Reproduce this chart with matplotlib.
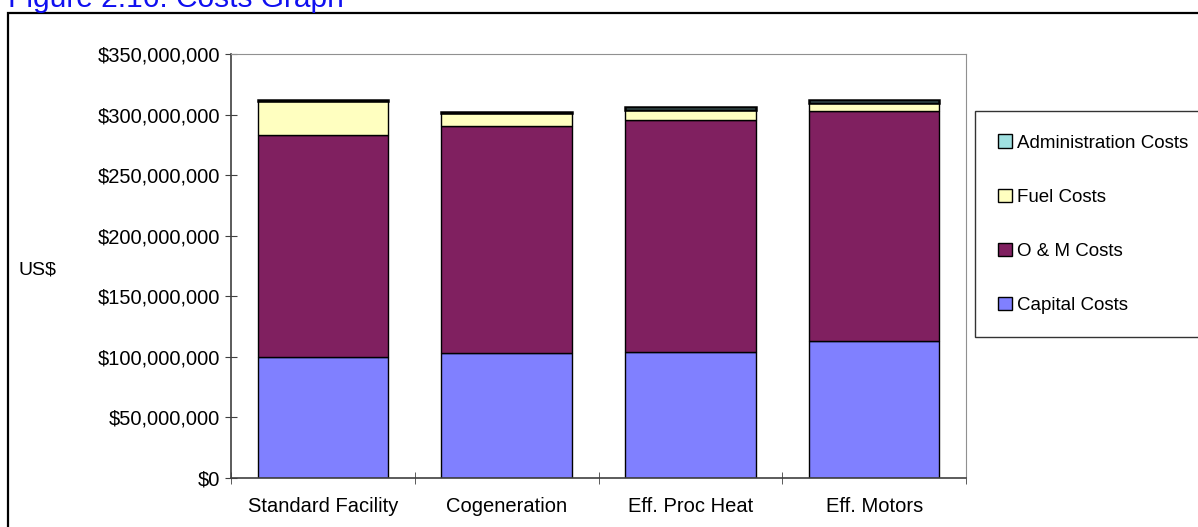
import numpy as np
import matplotlib
matplotlib.use('Agg')
import matplotlib.pyplot as plt
from matplotlib.patches import Rectangle
from matplotlib.ticker import FuncFormatter, MultipleLocator

plt.rcParams['font.family'] = ['Liberation Sans', 'DejaVu Sans']

categories = ['Standard Facility', 'Cogeneration', 'Eff. Proc Heat', 'Eff. Motors']
capital = [100.2e6, 103.4e6, 104.3e6, 113.0e6]
om = [182.8e6, 187.4e6, 191.0e6, 190.0e6]
fuel = [28.0e6, 10.2e6, 8.5e6, 6.8e6]
admin = [1.2e6, 1.4e6, 2.2e6, 2.2e6]

series = [('Capital Costs', capital, '#8080FF'),
          ('O & M Costs', om, '#802060'),
          ('Fuel Costs', fuel, '#FFFFC0'),
          ('Administration Costs', admin, '#A0E0E0')]

W, H = 1198, 527
fig = plt.figure(figsize=(W / 100, H / 100), dpi=100)
ax = fig.add_axes([231 / W, 1 - 478 / H, (966 - 231) / W, (478 - 54) / H])

x = np.arange(len(categories))
bottom = np.zeros(len(categories))
handles = []
for name, vals, col in series:
    # the thin admin band reads as a black line in the original
    lw = 1.8 if name.startswith('Admin') else 1.0
    b = ax.bar(x, vals, width=0.71, bottom=bottom, color=col, edgecolor='black',
               linewidth=lw, label=name)
    handles.append(b)
    bottom += np.array(vals)

ax.set_xlim(-0.5, len(categories) - 0.5)
ax.set_ylim(0, 350e6)
ax.yaxis.set_major_locator(MultipleLocator(50e6))
ax.yaxis.set_major_formatter(FuncFormatter(lambda v, p: '${:,.0f}'.format(v)))
ax.set_xticks(x)
ax.set_xticklabels(categories)
ax.set_xticks(np.arange(len(categories) + 1) - 0.5, minor=True)
ax.tick_params(axis='x', which='major', length=0, pad=14, labelsize=14.5)
ax.tick_params(axis='x', which='minor', direction='inout', length=8, color='#404040')
ax.tick_params(axis='y', direction='inout', length=8, color='#404040', labelsize=14.5, pad=4)

for s in ['top', 'right']:
    ax.spines[s].set_color('#909090')
for s in ['left', 'bottom']:
    ax.spines[s].set_color('#404040')
    ax.spines[s].set_linewidth(1.2)

fig.text(18 / W, 1 - 270 / H, 'US$', fontsize=14, va='center', ha='left')

# page title, partly cut off at the top
fig.text(8 / W, 1 - 7 / H, 'Figure 2.16: Costs Graph', color='#1010F0', fontsize=21.5,
         va='baseline', ha='left')

# outer frame
fig.patches.append(Rectangle((7.5 / W, -0.05), 1.1, 1 - 12.5 / H + 0.05,
                             transform=fig.transFigure, fill=False,
                             edgecolor='black', linewidth=1.6, clip_on=False))

leg = fig.legend(handles[::-1], [s[0] for s in series][::-1],
                 loc='upper left', bbox_to_anchor=(975 / W, 1 - 111 / H, 1.0 - 975 / W + 0.01, 0.0),
                 mode='expand', fontsize=13.5, frameon=True, fancybox=False,
                 edgecolor='black', borderpad=1.25, labelspacing=1.97,
                 handlelength=0.7, handleheight=0.7, handletextpad=0.3, borderaxespad=0)
leg.get_frame().set_linewidth(1.0)
for h in leg.legend_handles:
    h.set_linewidth(1.0)

fig.savefig('out.png', dpi=100)
